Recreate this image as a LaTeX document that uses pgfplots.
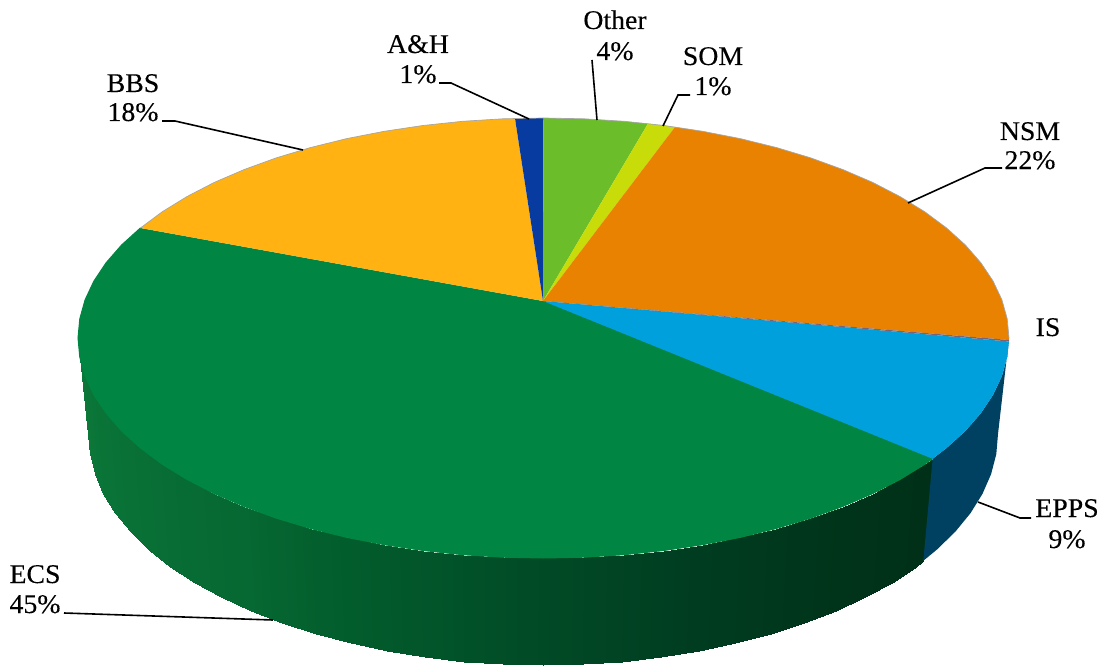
\documentclass[border=0pt]{standalone}
\usepackage{fontspec}
\setmainfont{Liberation Serif}
\newfontfamily\labfont{Liberation Serif}[FakeBold=0.2,FakeStretch=1.03]
\usepackage{pgfplots}
\pgfplotsset{compat=1.18}
\definecolor{ecsc}{RGB}{0,133,66}
\definecolor{bbsc}{RGB}{255,178,17}
\definecolor{ahc}{RGB}{8,59,160}
\definecolor{otherc}{RGB}{107,189,42}
\definecolor{somc}{RGB}{200,220,10}
\definecolor{nsmc}{RGB}{232,130,0}
\definecolor{isc}{RGB}{120,100,120}
\definecolor{eppsc}{RGB}{0,160,220}
\definecolor{eppsside}{RGB}{0,64,96}
\newcommand{\lab}[3]{\node[anchor=base,inner sep=0pt,font=\labfont\fontsize{27}{31}\selectfont] at (axis cs:#1,#2) {#3};}
\begin{document}
\begin{tikzpicture}
\useasboundingbox (0,0) rectangle (1106pt,666pt);
\begin{axis}[
    at={(0,0)}, anchor=south west,
    width=1106pt, height=666pt,
    scale only axis,
    xmin=0, xmax=1106,
    ymin=0, ymax=666,
    y dir=reverse,
    hide axis,
    clip=false,
    colormap={sidegreen}{rgb255(33cm)=(0,48,24); rgb255(50cm)=(0,52,26); rgb255(70cm)=(0,60,32); rgb255(90cm)=(1,74,38); rgb255(114cm)=(2,92,44); rgb255(130cm)=(6,104,50); rgb255(180cm)=(12,122,58)},
]
% side wall, ECS
\addplot[surf, shader=interp, mesh/cols=31, mesh/rows=2, point meta=explicit, point meta min=33, point meta max=180]
    table[x=x, y=y, meta=c] {
    x y c
    932.6 458.8 33.3
    924.8 464.2 35
    900.1 479.4 40
    872.7 493.6 45
    842.7 506.5 50
    810.5 518.2 55
    776.3 528.5 60
    740.2 537.4 65
    702.7 544.7 70
    664 550.5 75
    624.3 554.7 80
    584.1 557.2 85
    543.5 558 90
    502.9 557.2 95
    462.7 554.7 100
    423 550.5 105
    384.3 544.7 110
    346.8 537.4 115
    310.7 528.5 120
    276.5 518.2 125
    244.3 506.5 130
    214.3 493.6 135
    186.9 479.4 140
    162.2 464.2 145
    140.4 448 150
    121.6 431 155
    106.1 413.2 160
    93.9 394.9 165
    85.1 376.2 170
    79.8 357.2 175
    78 338 180
    923.3 560.8 33.3
    915.7 566.5 35
    891.5 582.5 40
    864.7 597.3 45
    835.5 610.9 50
    804 623.2 55
    770.5 634 60
    735.3 643.4 65
    698.6 651.1 70
    660.8 657.1 75
    622 661.5 80
    582.7 664.1 85
    543 665 90
    503.3 664.1 95
    464 661.5 100
    425.2 657.1 105
    387.4 651.1 110
    350.7 643.4 115
    315.5 634 120
    282 623.2 125
    250.5 610.9 130
    221.3 597.3 135
    194.5 582.5 140
    170.3 566.5 145
    149 549.5 150
    130.6 531.6 155
    115.4 513 160
    103.5 493.8 165
    94.9 474.1 170
    89.7 454.1 175
    88 434 180
};
% side wall, EPPS
\addplot[fill=eppsside, draw=none] coordinates {
    (1009,338) (1007.2,357.2) (1001.9,376.2) (993.1,394.9) (980.9,413.2) (965.4,431) (946.6,448) (932.6,458.8)
    (923.3,560.8) (937,549.5) (955.4,531.6) (970.6,513) (982.5,493.8) (991.1,474.1) (996.3,454.1) (998,434)
};
% top face
\addplot[fill=ecsc, draw=ecsc, line width=1pt] coordinates {
    (543,301) (932.6,458.8) (924.8,464.2) (900.1,479.4) (872.7,493.6) (842.7,506.5) (810.5,518.2) (776.3,528.5)
    (740.2,537.4) (702.7,544.7) (664,550.5) (624.3,554.7) (584.1,557.2) (543.5,558) (502.9,557.2) (462.7,554.7)
    (423,550.5) (384.3,544.7) (346.8,537.4) (310.7,528.5) (276.5,518.2) (244.3,506.5) (214.3,493.6) (186.9,479.4)
    (162.2,464.2) (140.4,448) (121.6,431) (106.1,413.2) (93.9,394.9) (85.1,376.2) (79.8,357.2) (78,338)
    (79.8,318.8) (85.1,299.8) (93.9,281.1) (106.1,262.8) (121.6,245) (140.4,228)
};
\addplot[fill=bbsc, draw=none] coordinates {
    (543,301) (140.4,228) (162.2,211.8) (186.9,196.6) (214.3,182.4) (244.3,169.5) (276.5,157.8) (310.7,147.5)
    (346.8,138.6) (384.3,131.3) (423,125.5) (462.7,121.3) (502.9,118.8) (515,118.4)
};
\addplot[fill=ahc, draw=none] coordinates {(543,301) (515,118.4) (530,118.1) (543.5,118)};
\addplot[fill=otherc, draw=none] coordinates {(543,301) (543.5,118) (584.1,118.8) (624.3,121.3) (648,123.6)};
\addplot[fill=somc, draw=none] coordinates {(543,301) (648,123.6) (664,125.5) (675,127)};
\addplot[fill=nsmc, draw=none] coordinates {
    (543,301) (675,127) (702.7,131.3) (740.2,138.6) (776.3,147.5) (810.5,157.8) (842.7,169.5) (872.7,182.4)
    (900.1,196.6) (924.8,211.8) (946.6,228) (965.4,245) (980.9,262.8) (993.1,281.1) (1001.9,299.8) (1007.2,318.8)
    (1009,338) (1009,340)
};
\addplot[fill=eppsc, draw=none] coordinates {
    (543,301) (1009,341.5) (1007.2,357.2) (1001.9,376.2) (993.1,394.9) (980.9,413.2) (965.4,431) (946.6,448) (932.6,458.8)
};
\addplot[fill=isc, draw=none] coordinates {(543,301) (1009,340) (1009,341.5)};
% thin grey rim along the back of the top face
\addplot[gray!70, line width=0.7pt] coordinates {
    (140.4,228) (162.2,211.8) (186.9,196.6) (214.3,182.4) (244.3,169.5) (276.5,157.8) (310.7,147.5)
    (346.8,138.6) (384.3,131.3) (423,125.5) (462.7,121.3) (502.9,118.8) (543.5,118) (584.1,118.8) (624.3,121.3)
    (664,125.5) (702.7,131.3) (740.2,138.6) (776.3,147.5) (810.5,157.8) (842.7,169.5) (872.7,182.4)
    (900.1,196.6) (924.8,211.8) (946.6,228) (965.4,245) (980.9,262.8) (993.1,281.1) (1001.9,299.8) (1007.2,318.8) (1009,338)
};
% leader lines
\addplot[black, line width=1.6pt] coordinates {(162,121) (175,121) (303,150)};
\addplot[black, line width=1.6pt] coordinates {(439,83) (451,83) (529,119)};
\addplot[black, line width=1.6pt] coordinates {(592,60) (597,120)};
\addplot[black, line width=1.6pt] coordinates {(690,95) (678,95) (663,126)};
\addplot[black, line width=1.6pt] coordinates {(1002,168) (985,168) (908,203)};
\addplot[black, line width=1.6pt] coordinates {(978,502) (1020,518) (1031,518)};
\addplot[black, line width=1.6pt] coordinates {(64,613) (273,620)};
% labels
\lab{133}{92}{BBS}
\lab{133}{121}{18\%}
\lab{418}{53}{A\&H}
\lab{418}{83}{1\%}
\lab{615}{29}{Other}
\lab{615}{60}{4\%}
\lab{713}{65}{SOM}
\lab{713}{95}{1\%}
\lab{1030}{140}{NSM}
\lab{1030}{169}{22\%}
\lab{1048}{336}{IS}
\lab{1067}{517}{EPPS}
\lab{1067}{548}{9\%}
\lab{35}{583}{ECS}
\lab{35}{613}{45\%}
\end{axis}
\end{tikzpicture}
\end{document}
